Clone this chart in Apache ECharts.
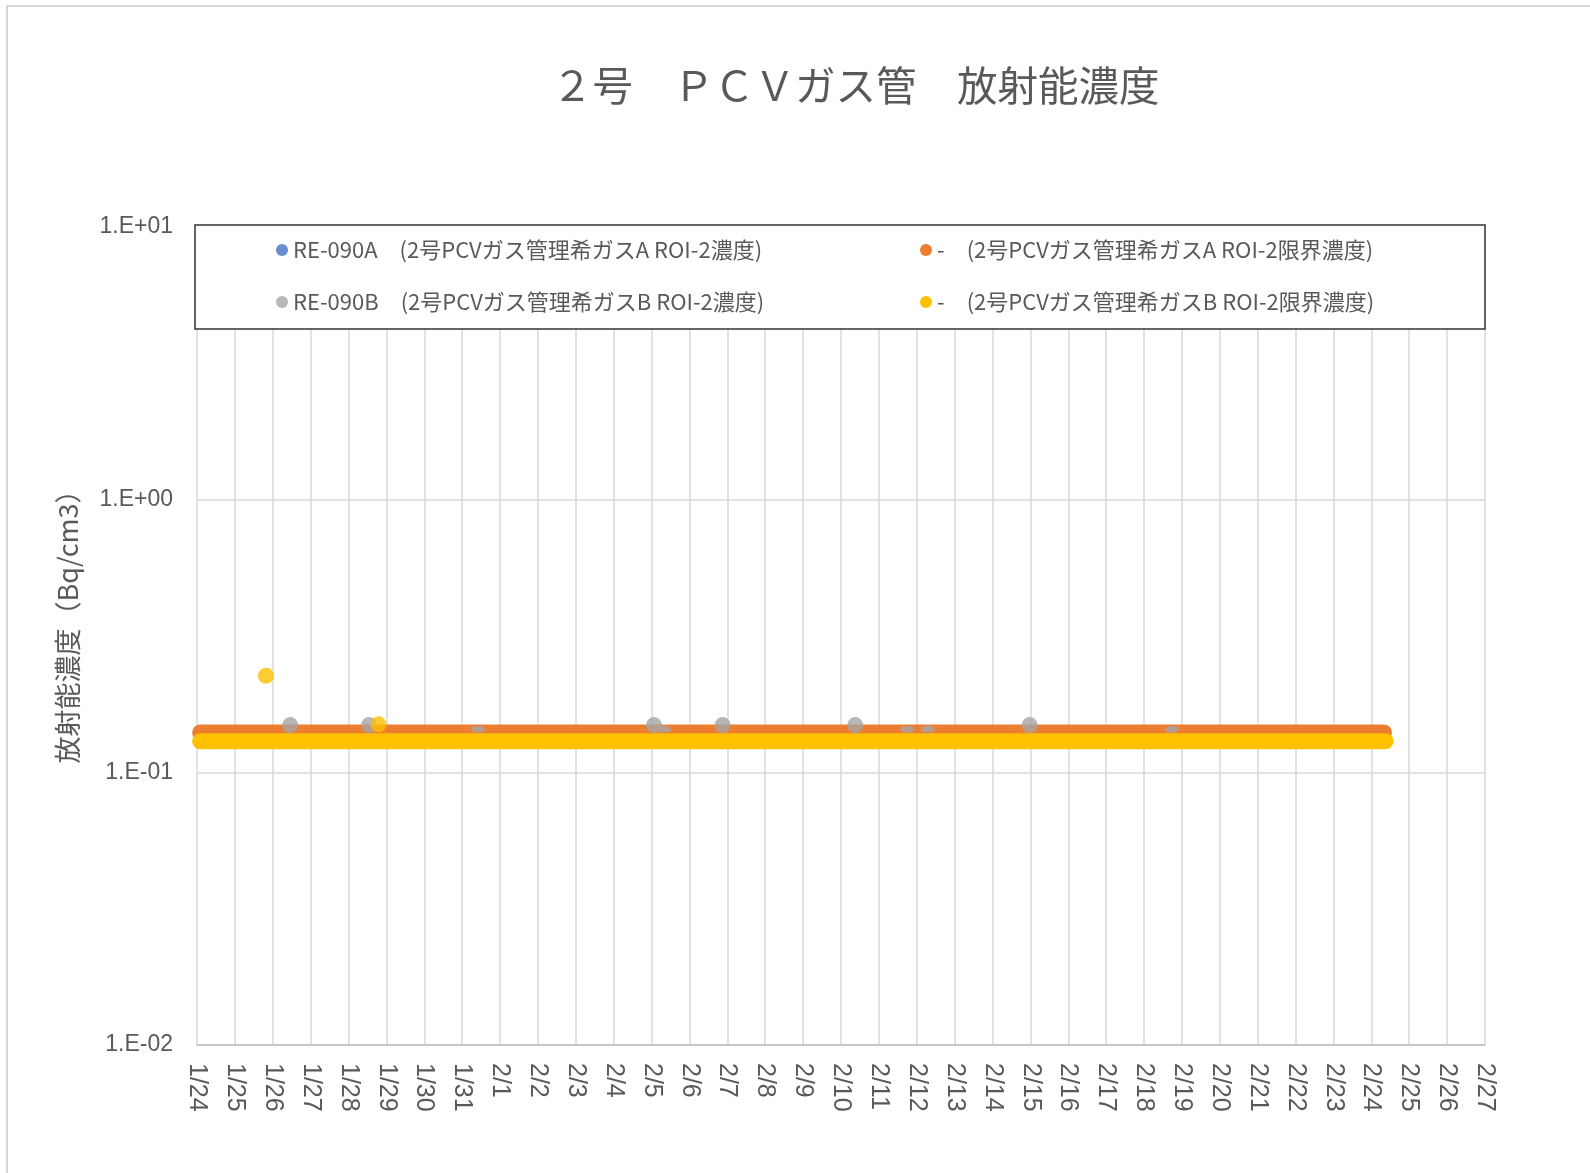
<!DOCTYPE html>
<html>
<head>
<meta charset="utf-8">
<script src="https://cdn.jsdelivr.net/npm/echarts@6/dist/echarts.min.js"></script>
<style>
html,body{margin:0;padding:0;background:#fff;}
#chart{width:1590px;height:1173px;}
</style>
</head>
<body>
<div id="chart"></div>
<script>
// ---- data ----
var titleText = '２号　ＰＣＶガス管　放射能濃度';
var yAxisName = '放射能濃度（Bq/cm3）';
var xTickLabels = ['1/24','1/25','1/26','1/27','1/28','1/29','1/30','1/31','2/1','2/2','2/3','2/4','2/5','2/6','2/7','2/8','2/9','2/10','2/11','2/12','2/13','2/14','2/15','2/16','2/17','2/18','2/19','2/20','2/21','2/22','2/23','2/24','2/25','2/26','2/27'];
var yTickLabels = {'0.01':'1.E-02','0.1':'1.E-01','1':'1.E+00','10':'1.E+01'};
var seriesNames = [
  'RE-090A　(2号PCVガス管理希ガスA ROI-2濃度)',
  '-　(2号PCVガス管理希ガスA ROI-2限界濃度)',
  'RE-090B　(2号PCVガス管理希ガスB ROI-2濃度)',
  '-　(2号PCVガス管理希ガスB ROI-2限界濃度)'
];
// RE-090A: no values shown in the chart
var re090A = [];
// RE-090B measured values (visible points)
var re090B = [
  ['01-26 11:00', 0.149], ['01-28 13:00', 0.149], ['02-05 01:30', 0.149],
  ['02-06 21:00', 0.149], ['02-10 09:00', 0.149], ['02-14 23:30', 0.149]
];
// RE-090B points mostly hidden by the limit band
var re090BPartial = [
  ['01-31 10:00', 0.144], ['02-05 08:00', 0.144], ['02-11 18:00', 0.144],
  ['02-12 07:00', 0.144], ['02-18 17:30', 0.144]
];
// A limit concentration (dense band)
var limitA = [
  ['01-24 02:00',0.140],['01-25 00:00',0.140],['01-26 00:00',0.140],['01-27 00:00',0.140],
  ['01-28 00:00',0.140],['01-29 00:00',0.140],['01-30 00:00',0.140],['01-31 00:00',0.140],
  ['02-01 00:00',0.140],['02-02 00:00',0.140],['02-03 00:00',0.140],['02-04 00:00',0.140],
  ['02-05 00:00',0.140],['02-06 00:00',0.140],['02-07 00:00',0.140],['02-07 21:00',0.140],
  ['02-07 22:00',null],
  ['02-07 23:30',0.140],['02-08 00:00',0.140],['02-09 00:00',0.140],['02-10 00:00',0.140],
  ['02-11 00:00',0.140],['02-12 00:00',0.140],['02-13 00:00',0.140],['02-14 00:00',0.140],
  ['02-15 00:00',0.140],['02-16 00:00',0.140],['02-17 00:00',0.140],['02-18 00:00',0.140],
  ['02-19 00:00',0.140],['02-20 00:00',0.140],['02-21 00:00',0.140],['02-22 00:00',0.140],
  ['02-23 00:00',0.140],['02-24 00:00',0.140],['02-24 08:00',0.140]
];
// B limit concentration (dense band)
var limitB = [
  ['01-24 02:00',0.130],['01-25 00:00',0.130],['01-26 00:00',0.130],['01-27 00:00',0.130],
  ['01-28 00:00',0.130],['01-29 00:00',0.130],['01-30 00:00',0.130],['01-31 00:00',0.130],
  ['02-01 00:00',0.130],['02-02 00:00',0.130],['02-03 00:00',0.130],['02-04 00:00',0.130],
  ['02-05 00:00',0.130],['02-06 00:00',0.130],['02-07 00:00',0.130],['02-08 00:00',0.130],
  ['02-09 00:00',0.130],['02-10 00:00',0.130],['02-11 00:00',0.130],['02-12 00:00',0.130],
  ['02-13 00:00',0.130],['02-14 00:00',0.130],['02-15 00:00',0.130],['02-16 00:00',0.130],
  ['02-17 00:00',0.130],['02-18 00:00',0.130],['02-19 00:00',0.130],['02-20 00:00',0.130],
  ['02-21 00:00',0.130],['02-22 00:00',0.130],['02-23 00:00',0.130],['02-24 00:00',0.130],
  ['02-24 09:00',0.130]
];
// B limit outliers
var limitBPoints = [['01-25 19:40', 0.226], ['01-28 19:00', 0.150]];

// ---- helpers ----
function dayOffset(s){
  var m = +s.slice(0,2), d = +s.slice(3,5), h = +s.slice(6,8), mi = +s.slice(9,11);
  return (Date.UTC(2024, m-1, d, h, mi) - Date.UTC(2024,0,24,0,0)) / 86400000;
}
function conv(arr){
  return arr.map(function(p){ return [dayOffset(p[0]), p[1] === null ? '-' : p[1]]; });
}

var txt = '#595959';
var cjk = '"Noto Sans CJK JP", "Noto Sans", sans-serif';
var lat = '"Liberation Sans", Arial, sans-serif';

var chart = echarts.init(document.getElementById('chart'), null, {renderer:'canvas'});
chart.setOption({
  animation: false,
  backgroundColor: '#fff',
  title: {
    text: titleText, left: 547, top: 60,
    textStyle: {fontFamily: cjk, fontSize: 40.5, fontWeight: 'normal', color: txt}
  },
  graphic: [
    {type:'rect', z: 0, silent: true, shape:{x:7, y:6, width:1620, height:1200},
     style:{fill:'none', stroke:'#d6d6d6', lineWidth:2}},
    {type:'rect', z: 50, silent: true, shape:{x:195, y:225, width:1290, height:104},
     style:{fill:'#fff', stroke:'#333', lineWidth:1.5}}
  ],
  legend: [
    {
      data: [seriesNames[0], seriesNames[2]], orient: 'vertical', left: 271, top: 233,
      itemGap: 28, itemWidth: 12, itemHeight: 12, icon: 'circle', z: 60,
      selectedMode: false,
      textStyle: {fontFamily: cjk, fontSize: 22, color: txt, lineHeight: 24}
    },
    {
      data: [seriesNames[1], seriesNames[3]], orient: 'vertical', left: 915, top: 233,
      itemGap: 28, itemWidth: 12, itemHeight: 12, icon: 'circle', z: 60,
      selectedMode: false,
      textStyle: {fontFamily: cjk, fontSize: 22, color: txt, lineHeight: 24}
    }
  ],
  grid: {left: 197, right: 105, top: 227, bottom: 128, containLabel: false},
  xAxis: {
    type: 'value', min: 0, max: xTickLabels.length - 1, interval: 1,
    axisLine: {show: true, lineStyle: {color: '#bfbfbf', width: 1.5}},
    axisTick: {show: false},
    splitLine: {show: true, lineStyle: {color: '#d9d9d9', width: 1.5}},
    axisLabel: {
      rotate: -90, margin: 18, color: txt, fontFamily: lat, fontSize: 25,
      formatter: function(v){ return xTickLabels[Math.round(v)] || ''; }
    }
  },
  yAxis: {
    type: 'log', logBase: 10, min: 0.01, max: 10,
    name: yAxisName, nameLocation: 'middle', nameGap: 116, nameRotate: 90,
    nameTextStyle: {fontFamily: cjk, fontSize: 27, color: txt, padding: [0, 0, 0, 32]},
    axisLine: {show: false},
    axisTick: {show: false},
    splitLine: {show: true, lineStyle: {color: '#d9d9d9', width: 1.5}},
    axisLabel: {
      margin: 24, color: txt, fontFamily: lat, fontSize: 23,
      formatter: function(v){
        var k = String(+(+v).toPrecision(3));
        return yTickLabels[k] || '';
      }
    }
  },
  series: [
    {name: seriesNames[0], type: 'scatter', data: conv(re090A), symbolSize: 16,
     itemStyle: {color: '#4472C4'}, z: 3},
    {name: seriesNames[1], type: 'line', data: conv(limitA), showSymbol: false, symbol: 'circle',
     clip: false, connectNulls: false, itemStyle: {color: '#ED7D31'},
     lineStyle: {color: '#ED7D31', width: 16, cap: 'round', join: 'round'}, z: 2, silent: true},
    {name: seriesNames[2], type: 'scatter', data: conv(re090B), symbolSize: 16,
     itemStyle: {color: '#A5A5A5'}, z: 4, silent: true},
    {name: seriesNames[2], type: 'scatter', data: conv(re090BPartial), symbolSize: [14, 7],
     itemStyle: {color: '#A5A5A5'}, z: 4, silent: true},
    {name: seriesNames[3], type: 'line', data: conv(limitB), showSymbol: false, symbol: 'circle',
     clip: false, itemStyle: {color: '#FFC000'},
     lineStyle: {color: '#FFC000', width: 16, cap: 'round', join: 'round'}, z: 5, silent: true},
    {name: seriesNames[3], type: 'scatter', data: conv(limitBPoints), symbolSize: 16,
     itemStyle: {color: '#FFC000'}, z: 6, silent: true}
  ]
});
</script>
</body>
</html>
